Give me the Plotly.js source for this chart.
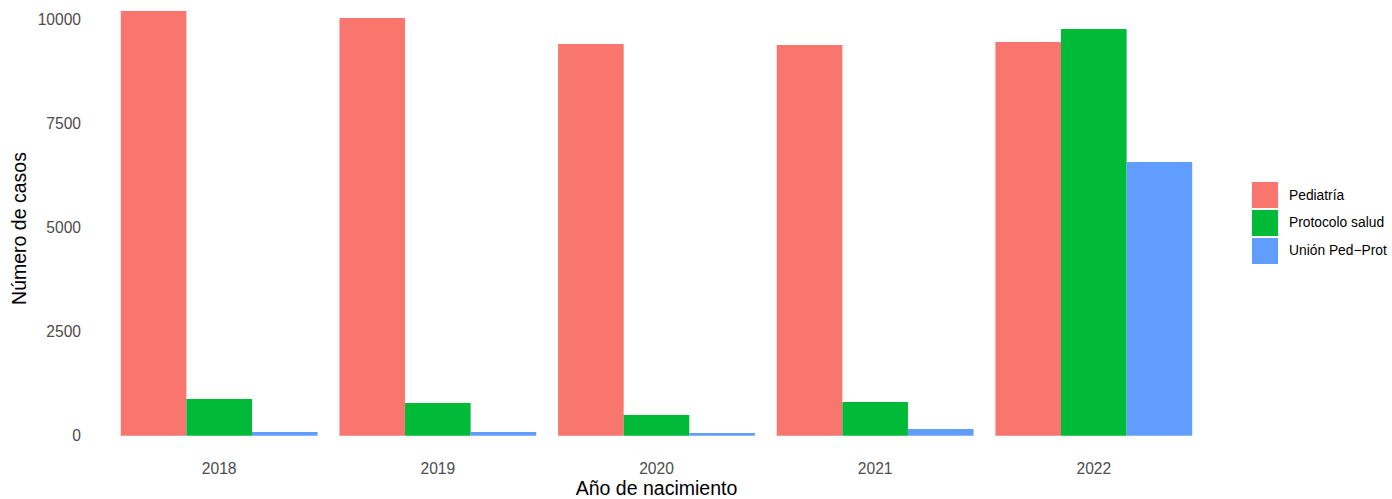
<!DOCTYPE html>
<html>
<head>
<meta charset="utf-8">
<script src="https://cdn.plot.ly/plotly-3.0.1.min.js"></script>
<style>html,body{margin:0;padding:0;background:#fff;}#chart{width:1392px;height:499px;}</style>
</head>
<body>
<div id="chart"></div>
<script>
const years = ["2018", "2019", "2020", "2021", "2022"];
const seriesNames = ["Pediatría", "Protocolo salud", "Unión Ped\u2212Prot"];
const pediatria = [10212, 10043, 9418, 9395, 9466];
const protocolo = [882, 786, 498, 810, 9779];
const union = [89, 89, 65, 161, 6581];
const colors = ["#F8766D", "#00BA38", "#619CFF"];
const yTicks = [0, 2500, 5000, 7500, 10000];

const allSeries = [pediatria, protocolo, union];
const traces = allSeries.map((vals, i) => ({
  type: "bar",
  x: years,
  y: vals,
  name: seriesNames[i],
  marker: {color: colors[i], line: {width: 0}},
  showlegend: false,
  hoverinfo: "x+y+name"
}));

// layout geometry (pixels)
const W = 1392, H = 499;
const mL = 88, mR = 167, mT = 0, mB = 42;
const pw = W - mL - mR, ph = H - mT - mB;
const px2x = p => (p - mL) / pw;
const px2y = p => (H - mB - p) / ph;

const shapes = [];
const annotations = [];
const keyTop = [182, 210, 238];
seriesNames.forEach((nm, i) => {
  shapes.push({type: "rect", xref: "paper", yref: "paper",
    x0: px2x(1252), x1: px2x(1278), y0: px2y(keyTop[i] + 26), y1: px2y(keyTop[i]),
    fillcolor: colors[i], line: {width: 0}});
  annotations.push({xref: "paper", yref: "paper", x: px2x(1287), y: px2y(keyTop[i] + 13),
    xanchor: "left", yanchor: "middle", showarrow: false, text: nm,
    font: {family: "Liberation Sans, Arial, sans-serif", size: 13.8, color: "#000"}});
});

const layout = {
  width: W, height: H,
  margin: {l: mL, r: mR, t: mT, b: mB, pad: 0},
  paper_bgcolor: "#fff", plot_bgcolor: "#fff",
  barmode: "group", bargap: 0.1, bargroupgap: 0,
  font: {family: "Liberation Sans, Arial, sans-serif"},
  xaxis: {
    type: "category", range: [-0.6, 4.6], showgrid: false, zeroline: false, showline: false,
    ticks: "", tickfont: {size: 15.6, color: "#4D4D4D"}, ticklabelstandoff: 0,
    automargin: false,
    title: {text: "Año de nacimiento", font: {size: 19.5, color: "#000"}, standoff: 15}
  },
  yaxis: {
    range: [-511, 10476], showgrid: false, zeroline: false, showline: false,
    tickvals: yTicks, ticktext: yTicks.map(String),
    ticks: "", tickfont: {size: 15.6, color: "#4D4D4D"}, ticklabelstandoff: 6,
    automargin: false,
    title: {text: "Número de casos", font: {size: 19.5, color: "#000"}, standoff: 5}
  },
  shapes: shapes,
  annotations: annotations,
  showlegend: false
};

Plotly.newPlot("chart", traces, layout, {displayModeBar: false, staticPlot: true});
</script>
</body>
</html>
